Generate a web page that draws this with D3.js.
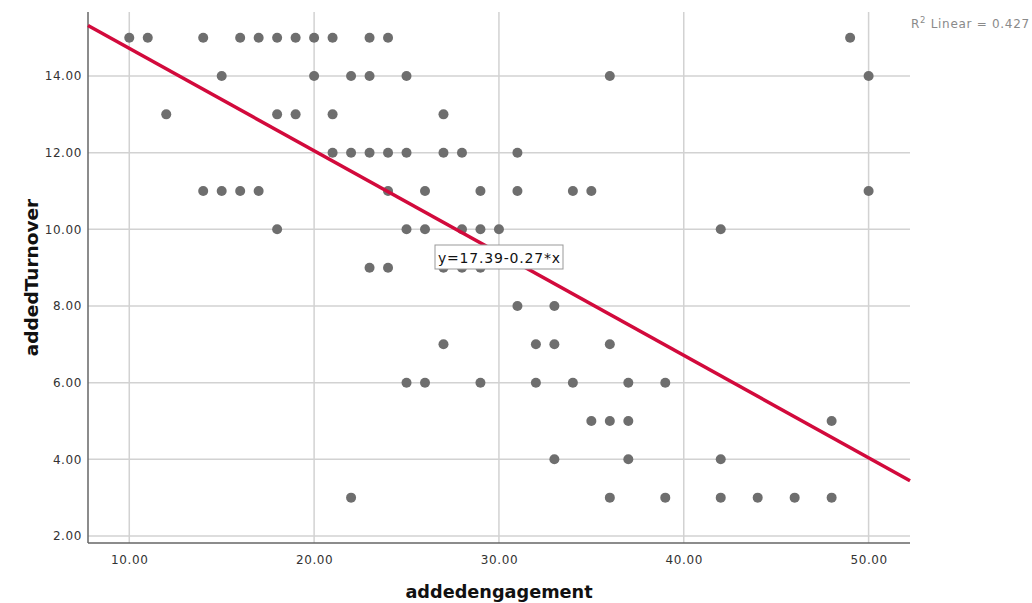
<!DOCTYPE html>
<html><head><meta charset="utf-8">
<script src="https://cdn.jsdelivr.net/npm/d3@7"></script>
<style>html,body{margin:0;padding:0;background:#fff;}</style>
</head><body>
<svg id="chart" width="1032" height="603"></svg>
<script>
// Data: engagement (x) grouped by turnover value (y)
const turnoverLevels = [15, 14, 13, 12, 11, 10, 9, 8, 7, 6, 5, 4, 3];
const engagementByLevel = [
  [10, 11, 14, 16, 17, 18, 19, 20, 21, 23, 24, 49],
  [15, 20, 22, 23, 25, 36, 50],
  [12, 18, 19, 21, 27],
  [21, 22, 23, 24, 25, 27, 28, 31],
  [14, 15, 16, 17, 24, 26, 29, 31, 34, 35, 50],
  [18, 25, 26, 28, 29, 30, 42],
  [23, 24, 27, 28, 29],
  [31, 33],
  [27, 32, 33, 36],
  [25, 26, 29, 32, 34, 37, 39],
  [35, 36, 37, 48],
  [33, 37, 42],
  [22, 36, 39, 42, 44, 46, 48]
];
const xTicks = [10, 20, 30, 40, 50];
const yTicks = [2, 4, 6, 8, 10, 12, 14];
const fitIntercept = 17.39;
const fitSlope = -0.267;
const equationLabel = "y=17.39-0.27*x";
const r2Label = "0.427";
const xTitle = "addedengagement";
const yTitle = "addedTurnover";

const points = [];
turnoverLevels.forEach((t, i) => engagementByLevel[i].forEach(e => points.push({x: e, y: t})));

const svg = d3.select("#chart");
const L = 88, R = 910, T = 12, B = 543;
const x = d3.scaleLinear().domain([7.767, 52.24]).range([L, R]);
const y = d3.scaleLinear().domain([1.817, 15.67]).range([B, T]);

const grid = svg.append("g");
grid.selectAll(".gy").data(yTicks).join("line")
  .attr("x1", L).attr("x2", R).attr("y1", d => y(d)).attr("y2", d => y(d))
  .attr("stroke", "#d2d2d2").attr("stroke-width", 1.5);
grid.selectAll(".gx").data(xTicks).join("line")
  .attr("y1", T).attr("y2", B).attr("x1", d => x(d)).attr("x2", d => x(d))
  .attr("stroke", "#d2d2d2").attr("stroke-width", 1.5);

const xAxis = svg.append("g").attr("transform", `translate(0,${B})`)
  .call(d3.axisBottom(x).tickValues(xTicks).tickFormat(d3.format(".2f")).tickSize(0).tickPadding(12));
const yAxis = svg.append("g").attr("transform", `translate(${L},0)`)
  .call(d3.axisLeft(y).tickValues(yTicks).tickFormat(d3.format(".2f")).tickSize(0).tickPadding(6));
[xAxis, yAxis].forEach(a => {
  a.select(".domain").attr("stroke", "#666").attr("stroke-width", 1.5);
  a.selectAll("text").attr("font-family", "DejaVu Sans, sans-serif").attr("font-size", 12)
    .attr("letter-spacing", 0.6).attr("fill", "#333");
});
yAxis.select(".domain").attr("d", `M0,${T}V${B}`);
xAxis.select(".domain").attr("d", `M${L},0H${R}`);

svg.append("g").selectAll("circle").data(points).join("circle")
  .attr("cx", d => x(d.x)).attr("cy", d => y(d.y)).attr("r", 5)
  .attr("fill", "#6e6e6e");

const xd = x.domain();
svg.append("line")
  .attr("x1", x(xd[0])).attr("y1", y(fitIntercept + fitSlope * xd[0]))
  .attr("x2", x(xd[1])).attr("y2", y(fitIntercept + fitSlope * xd[1]))
  .attr("stroke", "#d20a3c").attr("stroke-width", 3.5);

// equation label
const lg = svg.append("g").attr("transform", "translate(435,245)");
lg.append("rect").attr("width", 128).attr("height", 24)
  .attr("fill", "#fff").attr("stroke", "#999").attr("stroke-width", 1);
lg.append("text").attr("x", 3).attr("y", 18)
  .attr("font-family", "DejaVu Sans, sans-serif").attr("font-size", 14).attr("letter-spacing", 0.8).attr("fill", "#111")
  .text(equationLabel);

// R2 label
const r2 = svg.append("text").attr("x", 911).attr("y", 28)
  .attr("font-family", "DejaVu Sans, sans-serif").attr("font-size", 12).attr("letter-spacing", 0.7).attr("fill", "#8a8a8a");
r2.append("tspan").text("R");
r2.append("tspan").attr("dy", -5).attr("font-size", 8.5).text("2");
r2.append("tspan").attr("dy", 5).text(" Linear = " + r2Label);

svg.append("text").attr("x", (L + R) / 2 + 0).attr("y", 598).attr("text-anchor", "middle")
  .attr("font-family", "DejaVu Sans, sans-serif").attr("font-weight", "bold").attr("font-size", 17.7)
  .attr("fill", "#111").text(xTitle);
svg.append("text").attr("transform", `translate(38,${(T + B) / 2}) rotate(-90)`).attr("text-anchor", "middle")
  .attr("font-family", "DejaVu Sans, sans-serif").attr("font-weight", "bold").attr("font-size", 18.5)
  .attr("fill", "#111").text(yTitle);
</script>
</body></html>
